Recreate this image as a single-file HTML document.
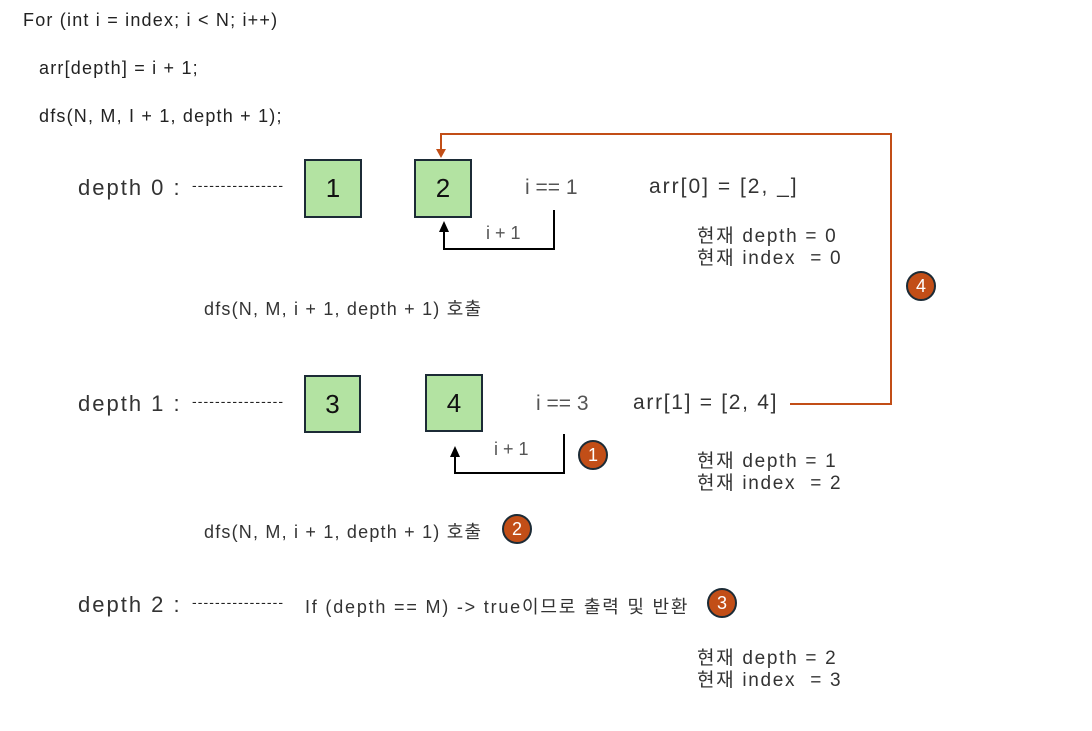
<!DOCTYPE html>
<html><head><meta charset="utf-8"><style>
body{margin:0;width:1092px;height:731px;background:#fff;position:relative;overflow:hidden;font-family:"Liberation Sans","Noto Sans CJK KR",sans-serif;color:#222}
.t{position:absolute;white-space:nowrap}
.box{position:absolute;background:#b3e3a2;border:2px solid #1c2b36;box-sizing:border-box;font-size:26px;display:flex;align-items:center;justify-content:center;color:#111}
.c{position:absolute;width:30px;height:30px;border-radius:50%;background:#c24e17;border:2px solid #1c2b36;box-sizing:border-box;color:#fff;font-size:18px;display:flex;align-items:center;justify-content:center}
.d{font-size:22px;color:#333;letter-spacing:2px}
.dash{font-size:14px;letter-spacing:1.1px}
.info{font-size:19px;line-height:22px;color:#333;letter-spacing:1.7px}
</style></head><body>
<div class="t" style="left:23px;top:10px;font-size:18px;letter-spacing:1.2px">For (int i = index; i &lt; N; i++)</div>
<div class="t" style="left:39px;top:58px;font-size:18px;letter-spacing:1.2px">arr[depth] = i + 1;</div>
<div class="t" style="left:39px;top:106px;font-size:18px;letter-spacing:1.2px">dfs(N, M, I + 1, depth + 1);</div>

<div class="t d" style="left:78px;top:175px">depth 0 :</div>
<div class="t dash" style="left:192px;top:177px">----------------</div>
<div class="t d" style="left:78px;top:391px">depth 1 :</div>
<div class="t dash" style="left:192px;top:393px">----------------</div>
<div class="t d" style="left:78px;top:592px">depth 2 :</div>
<div class="t dash" style="left:192px;top:594px">----------------</div>

<div class="box" style="left:304px;top:159px;width:58px;height:59px">1</div>
<div class="box" style="left:414px;top:159px;width:58px;height:59px">2</div>
<div class="box" style="left:304px;top:375px;width:57px;height:58px">3</div>
<div class="box" style="left:425px;top:374px;width:58px;height:58px">4</div>

<div class="t" style="left:525px;top:176px;font-size:21px;color:#555">i == 1</div>
<div class="t" style="left:486px;top:223px;font-size:18px;color:#555">i + 1</div>
<div class="t" style="left:536px;top:392px;font-size:21px;color:#555">i == 3</div>
<div class="t" style="left:494px;top:439px;font-size:18px;color:#555">i + 1</div>

<div class="t" style="left:649px;top:175px;font-size:21px;color:#333;letter-spacing:2px">arr[0] = [2, _]</div>
<div class="t" style="left:633px;top:391px;font-size:21px;color:#333;letter-spacing:1.7px">arr[1] = [2, 4]</div>

<div class="t info" style="left:697px;top:226px">현재 depth = 0<br>현재 index &nbsp;= 0</div>
<div class="t info" style="left:697px;top:451px">현재 depth = 1<br>현재 index &nbsp;= 2</div>
<div class="t info" style="left:697px;top:648px">현재 depth = 2<br>현재 index &nbsp;= 3</div>

<div class="t" style="left:204px;top:295px;font-size:18px;color:#333;letter-spacing:1.2px">dfs(N, M, i + 1, depth + 1) 호출</div>
<div class="t" style="left:204px;top:518px;font-size:18px;color:#333;letter-spacing:1.2px">dfs(N, M, i + 1, depth + 1) 호출</div>
<div class="t" style="left:305px;top:593px;font-size:18px;color:#333;letter-spacing:1.8px">If (depth == M) -&gt; true이므로 출력 및 반환</div>

<svg style="position:absolute;left:0;top:0" width="1092" height="731">
<polyline points="554,210 554,249 444,249 444,230" fill="none" stroke="#000" stroke-width="2"/>
<polygon points="444,221 439,232 449,232" fill="#000"/>
<polyline points="564,434 564,473 455,473 455,455" fill="none" stroke="#000" stroke-width="2"/>
<polygon points="455,446 450,457 460,457" fill="#000"/>
<polyline points="790,404 891,404 891,134 441,134 441,150" fill="none" stroke="#c24e17" stroke-width="2"/>
<polygon points="441,158 436,149 446,149" fill="#c24e17"/>
</svg>

<div class="c" style="left:578px;top:440px">1</div>
<div class="c" style="left:502px;top:514px">2</div>
<div class="c" style="left:707px;top:588px">3</div>
<div class="c" style="left:906px;top:271px">4</div>
</body></html>
